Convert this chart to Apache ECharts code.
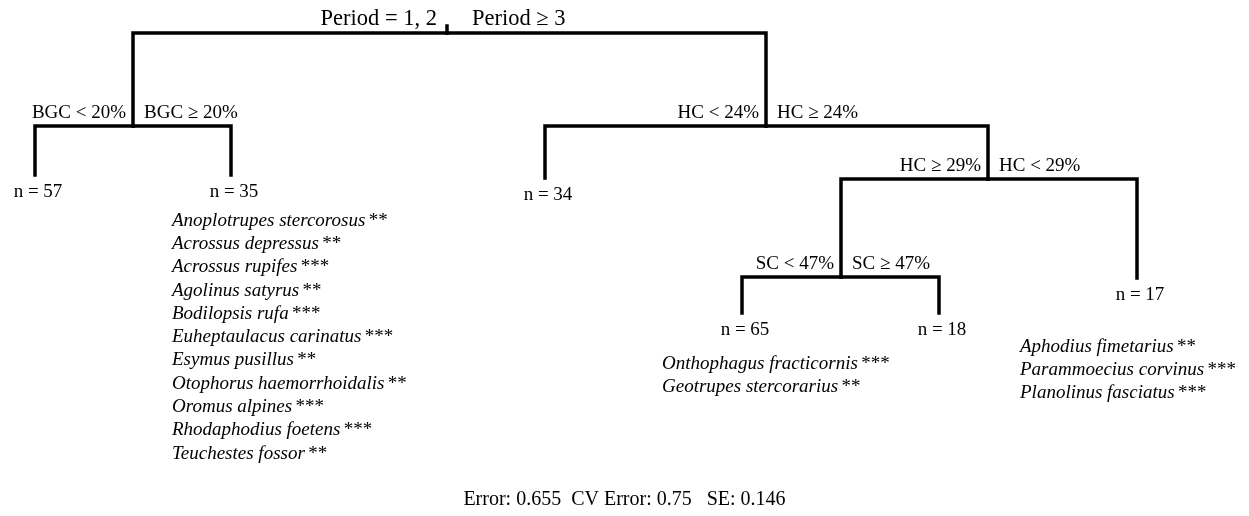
<!DOCTYPE html>
<html lang="en">
  <head>
    <meta charset="UTF-8" />
    <title>Regression tree</title>
    <script src="https://cdn.jsdelivr.net/npm/echarts/dist/echarts.min.js"></script>
    <style>
      html, body { margin: 0; padding: 0; background: #fff; }
    </style>
  </head>
  <body>
    <div id="tree-chart" style="width: 1249px; height: 516px"></div>

    <script>
      // tree nodes (x = horizontal place, y = split / leaf level)
      const nodeName = ["root", "BGC", "HC24", "n57", "n35", "n34", "HC29", "SC", "n17", "n65", "n18"];
      const nodeX = [447, 133, 766, 35, 231, 545, 988, 841, 1137, 742, 939];
      const nodeY = [33, 126, 126, 175, 175, 178, 179, 277, 278, 313, 313];
      const nodeParent = [-1, 0, 0, 1, 1, 2, 2, 6, 6, 7, 7];
      const rootTop = 26;

      // split rules, in the order root, BGC, HC24, HC29, SC
      const splitNode = [0, 1, 2, 6, 7];
      const splitLeft = ["Period = 1, 2", "BGC < 20%", "HC < 24%", "HC ≥ 29%", "SC < 47%"];
      const splitRight = ["Period ≥ 3", "BGC ≥ 20%", "HC ≥ 24%", "HC < 29%", "SC ≥ 47%"];

      // leaves
      const leafNode = [3, 4, 5, 9, 10, 8];
      const leafSize = [57, 35, 34, 65, 18, 17];

      // indicator species per leaf group
      const speciesA = [
        "Anoplotrupes stercorosus", "Acrossus depressus", "Acrossus rupifes",
        "Agolinus satyrus", "Bodilopsis rufa", "Euheptaulacus carinatus",
        "Esymus pusillus", "Otophorus haemorrhoidalis", "Oromus alpines",
        "Rhodaphodius foetens", "Teuchestes fossor"
      ];
      const starsA = ["**", "**", "***", "**", "***", "***", "**", "**", "***", "***", "**"];
      const speciesB = ["Onthophagus fracticornis", "Geotrupes stercorarius"];
      const starsB = ["***", "**"];
      const speciesC = ["Aphodius fimetarius", "Parammoecius corvinus", "Planolinus fasciatus"];
      const starsC = ["**", "***", "***"];

      const footerText = "Error: 0.655  CV Error: 0.75   SE: 0.146";

      const FONT = "'Liberation Serif', 'Times New Roman', serif";
      const INK = "#000";

      // edges: parent bar -> child stem
      var edges = [{ coords: [[nodeX[0], rootTop], [nodeX[0], nodeY[0]]] }];
      nodeParent.forEach(function (p, i) {
        if (p < 0) return;
        edges.push({
          coords: [[nodeX[p], nodeY[p]], [nodeX[i], nodeY[p]], [nodeX[i], nodeY[i]]]
        });
      });

      // split labels
      var splitLabels = [];
      splitNode.forEach(function (n, k) {
        var big = k === 0;
        var dy = big ? 14 : 13;
        splitLabels.push({
          value: [nodeX[n], nodeY[n] - dy],
          label: {
            formatter: splitLeft[k], position: "left", distance: big ? 10 : 7,
            fontSize: big ? 22.5 : 19
          }
        });
        splitLabels.push({
          value: [nodeX[n], nodeY[n] - dy],
          label: {
            formatter: splitRight[k], position: "right", distance: big ? 25 : 11,
            fontSize: big ? 22.5 : 19
          }
        });
      });

      // leaf labels below each stem
      var leafLabels = leafNode.map(function (n, k) {
        return {
          value: [nodeX[n] + 3, nodeY[n] + 17.5],
          label: { formatter: "n = " + leafSize[k] }
        };
      });

      function speciesText(names, stars) {
        return names.map(function (s, i) {
          return "{i|" + s + "} {s|" + stars[i] + "}";
        }).join("\n");
      }
      var speciesRich = {
        i: { fontFamily: FONT, fontStyle: "italic", fontSize: 19, color: INK, lineHeight: 23.3 },
        s: { fontFamily: FONT, fontSize: 19, color: INK, lineHeight: 23.3 }
      };
      var speciesLabels = [
        { value: [nodeX[4] - 59, 209], label: { formatter: speciesText(speciesA, starsA) } },
        { value: [nodeX[9] - 80, 352], label: { formatter: speciesText(speciesB, starsB) } },
        { value: [nodeX[8] - 117, 335], label: { formatter: speciesText(speciesC, starsC) } }
      ];

      var textSeries = {
        type: "scatter",
        symbolSize: 0,
        silent: true,
        itemStyle: { opacity: 1 },
        emphasis: { disabled: true }
      };

      var chart = echarts.init(document.getElementById("tree-chart"));
      var option = {
        backgroundColor: "#fff",
        animation: false,
        title: {
          text: footerText,
          left: "center",
          top: 485,
          textStyle: { fontFamily: FONT, fontSize: 20, fontWeight: "normal", color: INK }
        },
        grid: { left: 0, right: 0, top: 0, bottom: 0 },
        xAxis: { type: "value", min: 0, max: 1249, show: false },
        yAxis: { type: "value", min: 0, max: 516, inverse: true, show: false },
        series: [
          {
            type: "lines",
            coordinateSystem: "cartesian2d",
            polyline: true,
            silent: true,
            lineStyle: { color: "#000", width: 3.5, opacity: 1, join: "miter", cap: "square" },
            data: edges
          },
          Object.assign({}, textSeries, {
            label: {
              show: true, fontFamily: FONT, fontSize: 19, color: INK, opacity: 1
            },
            data: splitLabels
          }),
          Object.assign({}, textSeries, {
            label: {
              show: true, position: "inside", fontFamily: FONT, fontSize: 19, color: INK, opacity: 1
            },
            data: leafLabels
          }),
          Object.assign({}, textSeries, {
            label: {
              show: true, position: [0, 0], align: "left", verticalAlign: "top",
              opacity: 1, rich: speciesRich
            },
            data: speciesLabels
          })
        ]
      };
      chart.setOption(option);
    </script>
  </body>
</html>
